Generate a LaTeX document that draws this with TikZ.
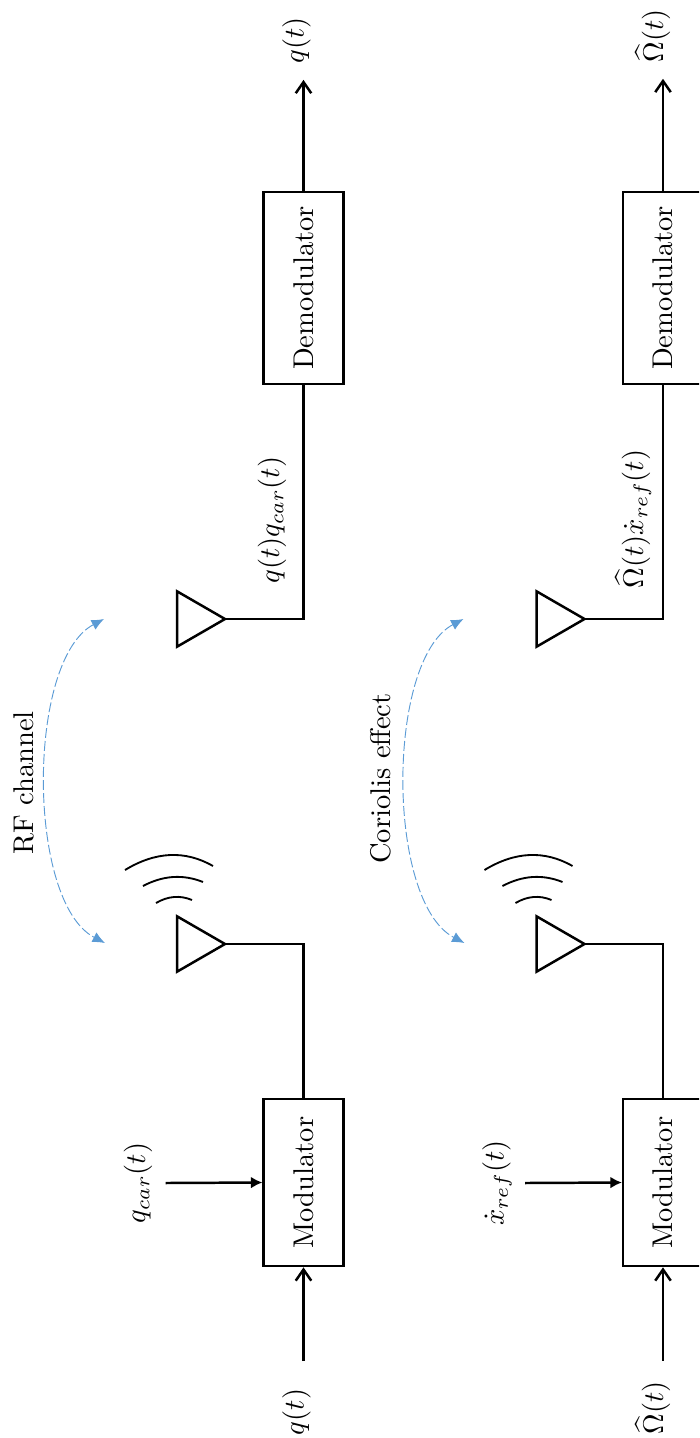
\documentclass[tikz,border=0pt]{standalone}
\usepackage{amsmath}
\usepackage{amssymb}
\usetikzlibrary{arrows.meta,shapes.geometric}

\definecolor{channelblue}{RGB}{91,155,213}

\tikzset{
    every node/.style={scale=0.92},
    block/.style={draw, thick, rotate=90, minimum height=28pt},
    antenna/.style={draw, thick, isosceles triangle, isosceles triangle apex angle=60,
                    inner sep=0, outer sep=0, minimum height=16.8pt, anchor=apex},
    signalin/.style={rotate=90, anchor=base, inner xsep=9.5pt},
    signalout/.style={rotate=90, anchor=base, inner xsep=5.5pt},
    carrier/.style={rotate=90, inner ysep=4.5pt},
    wire/.style={thick, >={Straight Barb[length=3.6pt,width=5pt]}},
    feed/.style={thick, -{Latex[length=3.7pt,width=3.8pt]}},
    wavefront/.style={semithick},
    channel/.style={draw=channelblue, line width=0.3pt, dash pattern=on 3.2pt off 1pt,
                    {Latex[length=4pt,width=3.5pt]}-{Latex[length=4pt,width=3.5pt]}}
}

\begin{document}
\begin{tikzpicture}[x=0.3226pt, y=-0.3226pt]
    \useasboundingbox (0, 0) rectangle (699, 1438);
    \clip (0, 0) rectangle (699, 1438);

    % upper row
    \node[block, minimum width=67.4pt] (dem1) at (303.5, 288) {Demodulator};
    \node[block, minimum width=58.7pt] (mod1) at (303.5, 1182.5) {Modulator};
    \node[antenna] (rx1) at (225, 619) {};
    \node[antenna] (tx1) at (225, 944) {};
    \node[signalout] (out1) at (303.5, 40.5) {$q(t)$};
    \node[signalin] (in1) at (303.5, 1412) {$q(t)$};
    \node[carrier] (car1) at (138, 1183) {$q_{car}(t)$};
    \node[rotate=90, anchor=base] (mix1) at (279, 520) {$q(t)q_{car}(t)$};
    \node[rotate=90] (name1) at (24, 783) {RF channel};
    \coordinate (c1a) at (104, 619);
    \coordinate (c1b) at (105, 943);

    \draw[wire, ->] (dem1.east) -- (out1.base west);
    \draw[wire] (dem1.west) |- (rx1.apex);
    \draw[wire] (mod1.east) |- (tx1.apex);
    \draw[wire, ->] (in1.base east) -- (mod1.west);
    \draw[feed] (car1.south) -- (mod1.north);
    \draw[channel] (c1a) .. controls (26.5, 660) and (26.5, 902) .. (c1b);
    \draw[wavefront] (125, 870) .. controls (155.6, 851.4) and (185, 850) .. (213, 866);
    \draw[wavefront] (143, 886) .. controls (163, 875.4) and (183, 874) .. (203, 882);
    \draw[wavefront] (156, 903) .. controls (168, 896) and (180, 895) .. (192, 900);

    % lower row
    \node[block, minimum width=67.4pt] (dem2) at (663, 288) {Demodulator};
    \node[block, minimum width=58.7pt] (mod2) at (663, 1182.5) {Modulator};
    \node[antenna] (rx2) at (584.5, 619) {};
    \node[antenna] (tx2) at (584.5, 944) {};
    \node[signalout] (out2) at (663, 36) {$\widehat{\Omega}(t)$};
    \node[signalin, inner xsep=7pt] (in2) at (663, 1408) {$\widehat{\Omega}(t)$};
    \node[carrier] (car2) at (497, 1183) {$\dot{x}_{ref}(t)$};
    \node[rotate=90, anchor=base] (mix2) at (643, 519) {$\widehat{\Omega}(t)\dot{x}_{ref}(t)$};
    \node[rotate=90] (name2) at (381, 778.5) {Coriolis effect};
    \coordinate (c2a) at (463.5, 619);
    \coordinate (c2b) at (464.5, 943);

    \draw[wire, ->] (dem2.east) -- (out2.base west);
    \draw[wire] (dem2.west) |- (rx2.apex);
    \draw[wire] (mod2.east) |- (tx2.apex);
    \draw[wire, ->] (in2.base east) -- (mod2.west);
    \draw[feed] (car2.south) -- (mod2.north);
    \draw[channel] (c2a) .. controls (386, 660) and (386, 902) .. (c2b);
    \draw[wavefront] (484.5, 870) .. controls (515, 851.4) and (544.5, 850) .. (572.5, 866);
    \draw[wavefront] (502.5, 886) .. controls (522.5, 875.4) and (542.5, 874) .. (562.5, 882);
    \draw[wavefront] (515.5, 903) .. controls (527.5, 896) and (539.5, 895) .. (551.5, 900);
\end{tikzpicture}
\end{document}
